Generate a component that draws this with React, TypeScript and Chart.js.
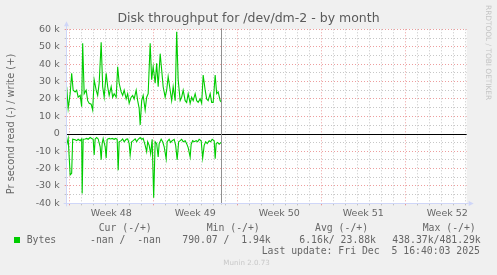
import { useEffect, useRef } from "react";
import { Chart, registerables } from "chart.js";

Chart.register(...registerables);

// ---------- text ----------
const TITLE = "Disk throughput for /dev/dm-2 - by month";
const Y_TITLE = "Pr second read (-) / write (+)";
const WATERMARK = "RRDTOOL / TOBI OETIKER";
const WEEK_LABELS = ["Week 48", "Week 49", "Week 50", "Week 51", "Week 52"];
const LEGEND_HEADERS = ["Cur (-/+)", "Min (-/+)", "Avg (-/+)", "Max (-/+)"];
const LEGEND_NAME = "Bytes";
const LEGEND_VALUES = ["-nan /  -nan", "790.07 /  1.94k", "6.16k/ 23.88k", "438.37k/481.29k"];
const LAST_UPDATE = "Last update: Fri Dec  5 16:40:03 2025";
const VERSION = "Munin 2.0.73";

// ---------- axes ----------
const Y_MIN = -40000;
const Y_MAX = 60000;
const Y_STEP = 5000;
const X_HOURS = 800; // window length (hours)
const FIRST_WEEK_HOUR = 5.33; // first week boundary (hours from window start)
const NOW_HOUR = 309.3;

// ---------- data (hours from window start, values in k bytes/s) ----------
const writeHours = [0,3,7,10,13,17,20,23,27,30,32,35,39,42,45,49,52,55,59,62,65,69,72,75,79,82,85,89,92,95,99,102,105,109,112,115,119,122,125,129,132,135,139,142,145,147,150,153,157,160,163,167,170,173,177,180,183,187,190,193,197,200,203,207,210,213,217,220,223,227,230,233,237,240,243,247,250,253,257,260,263,267,270,273,277,280,283,287,290,293,297,300,303,307,310];
const writeK = [27,14.6,23,34.7,25,24,25,21,22,15.5,52,23,25,19,17.5,17,13.6,31,25,22,29,52.5,27,21,34.7,27,22,27,21,23,21,38.5,29,24,22,25,20,23,17.5,21,22,20,25,19,14.6,5,19,22,13.6,21,23,52,31,38.5,29,40.5,27,46,36.6,27,21,25,32.8,25,19,27,19,58.6,31,19,21,25,19,18,23,17.5,21,19,23,19,18,20,17.5,33.7,25,20,19,23,18,18,33.7,23,24,19,18];

const readHours = [0,3,7,10,12,17,20,23,27,30,31,33,37,40,43,47,50,53,55,57,60,63,67,69,71,73,77,79,81,85,88,91,95,98,101,103,105,109,112,115,119,122,125,127,130,133,137,140,143,147,150,153,157,160,162,165,168,171,174,177,180,183,185,189,192,195,199,201,205,208,211,215,218,221,224,227,230,233,237,240,243,247,249,252,255,259,262,265,269,272,275,278,281,285,288,291,295,297,299,302,305,309];
const readK = [-6.5,-2.6,-23.7,-22.8,-3.2,-3.5,-4,-3.2,-4,-3,-34.3,-3.2,-3,-2.7,-3.2,-2.2,-2.7,-3.2,-12.2,-3,-2.2,-3,-7.5,-15,-5.5,-2.7,-7.5,-14,-3.2,-2.7,-3,-2.7,-3.2,-2.7,-3.2,-21,-4.6,-4,-3,-4.6,-3.2,-3,-5.7,-12.2,-4.6,-4,-3,-4.6,-3.2,-2.2,-3.2,-2.7,-6.7,-10.3,-4.6,-6.7,-11.5,-3.2,-36.8,-4.6,-5.7,-13.3,-5.7,-3.2,-4.6,-7.5,-14.4,-4.6,-3.2,-5,-4,-3.2,-6.7,-15,-4.6,-4,-3.2,-4.6,-4,-5.7,-8,-13.3,-6,-4,-4.6,-4,-4.6,-3.2,-4,-14,-6.7,-4.6,-5.7,-4,-4.6,-3.2,-4,-14.4,-5.7,-5,-6,-5];

// ---------- style ----------
const FONT = "'DejaVu Sans', sans-serif";
const MONO = "'DejaVu Sans Mono', monospace";
const TEXT = "#666666";
const GREEN = "#00cc00";
const MAJOR = "rgba(222,79,79,0.55)";
const MINOR = "rgba(143,143,143,0.5)";
const AXIS = "#cfd6f8";

const extras = {
  id: "extras",
  beforeDraw(chart: any) {
    const { ctx, chartArea: a } = chart;
    ctx.save();
    ctx.fillStyle = "#ffffff";
    ctx.fillRect(a.left, a.top, a.right - a.left, a.bottom - a.top);
    ctx.restore();
  },
  afterDatasetsDraw(chart: any) {
    const { ctx, chartArea: a, scales } = chart;
    const x = scales.x;
    const y = scales.y;
    ctx.save();
    const y0 = Math.round(y.getPixelForValue(0)) + 0.5;
    ctx.strokeStyle = "#000000";
    ctx.lineWidth = 1;
    ctx.beginPath();
    ctx.moveTo(a.left, y0);
    ctx.lineTo(a.right, y0);
    ctx.stroke();
    const xn = Math.round(x.getPixelForValue(NOW_HOUR)) + 0.5;
    ctx.strokeStyle = "#909090";
    ctx.beginPath();
    ctx.moveTo(xn, a.top - 1);
    ctx.lineTo(xn, a.bottom + 1);
    ctx.stroke();
    ctx.restore();
  },
  afterDraw(chart: any) {
    const { ctx, chartArea: a } = chart;
    ctx.save();
    const lx = Math.round(a.left - 0.5) + 0.5;
    const by = Math.round(a.bottom - 0.5) + 0.5;
    ctx.strokeStyle = AXIS;
    ctx.fillStyle = AXIS;
    ctx.lineWidth = 1;
    ctx.beginPath();
    ctx.moveTo(lx, a.bottom + 3);
    ctx.lineTo(lx, a.top - 4);
    ctx.moveTo(a.left - 3, by);
    ctx.lineTo(a.right + 2, by);
    ctx.stroke();
    ctx.beginPath();
    ctx.moveTo(lx, a.top - 8);
    ctx.lineTo(lx - 2.5, a.top - 3);
    ctx.lineTo(lx + 2.5, a.top - 3);
    ctx.closePath();
    ctx.fill();
    ctx.beginPath();
    ctx.moveTo(a.right + 7, by);
    ctx.lineTo(a.right + 2, by - 2.5);
    ctx.lineTo(a.right + 2, by + 2.5);
    ctx.closePath();
    ctx.fill();
    ctx.fillStyle = TEXT;
    ctx.font = `9.8px ${FONT}`;
    ctx.textAlign = "center";
    ctx.textBaseline = "middle";
    ctx.translate(11.5, 124);
    ctx.rotate(-Math.PI / 2);
    ctx.fillText(Y_TITLE, 0, 0);
    ctx.restore();
    ctx.save();
    ctx.fillStyle = "#c4c4c4";
    ctx.font = `7.4px ${FONT}`;
    ctx.textAlign = "left";
    ctx.textBaseline = "middle";
    ctx.translate(488, 5);
    ctx.rotate(Math.PI / 2);
    ctx.fillText(WATERMARK, 0, 0);
    ctx.restore();
  },
};

function weekIndex(v: number) {
  return Math.round((v - FIRST_WEEK_HOUR) / 12);
}

export default function App() {
  const ref = useRef<HTMLCanvasElement | null>(null);

  useEffect(() => {
    if (!ref.current) return;
    const chart = new Chart(ref.current, {
      type: "line",
      data: {
        datasets: [
          {
            label: "write",
            data: writeHours.map((h, i) => ({ x: h, y: writeK[i] * 1000 })),
            borderColor: GREEN,
            borderWidth: 1.1,
            pointRadius: 0,
            tension: 0,
            fill: false,
          },
          {
            label: "read",
            data: readHours.map((h, i) => ({ x: h, y: readK[i] * 1000 })),
            borderColor: GREEN,
            borderWidth: 1.1,
            pointRadius: 0,
            tension: 0,
            fill: false,
          },
        ],
      },
      options: {
        responsive: false,
        animation: false,
        devicePixelRatio: 1,
        layout: { padding: 0 },
        plugins: {
          legend: { display: false },
          tooltip: { enabled: false },
          title: {
            display: true,
            text: TITLE,
            color: "#5a5a5a",
            font: { family: FONT, size: 12.5, weight: "normal" as any, lineHeight: 1.2 },
            padding: { top: 11.5, bottom: 2.8 },
          },
        },
        scales: {
          x: {
            type: "linear",
            min: 0,
            max: X_HOURS,
            afterBuildTicks: (s: any) => {
              const t = [];
              for (let v = FIRST_WEEK_HOUR; v <= X_HOURS; v += 12) t.push({ value: v });
              s.ticks = t;
            },
            afterFit: (s: any) => {
              s.height = 71.67;
            },
            ticks: {
              autoSkip: false,
              maxRotation: 0,
              minRotation: 0,
              padding: 2.5,
              color: TEXT,
              font: { family: FONT, size: 9.5 },
              callback: (v: any) => {
                const k = weekIndex(Number(v));
                if (k % 14 === 7) return WEEK_LABELS[(k - 7) / 14] ?? "";
                return "";
              },
            },
            grid: {
              drawTicks: true,
              tickLength: 2,
              lineWidth: 1,
              color: (c: any) => {
                const k = weekIndex(c.tick?.value ?? 0);
                if (k % 14 === 0) return MAJOR;
                if (k % 2 === 0) return MINOR;
                return "rgba(0,0,0,0)";
              },
            },
            border: { display: true, color: AXIS, width: 1, dash: [1, 2] },
          },
          y: {
            type: "linear",
            min: Y_MIN,
            max: Y_MAX,
            afterFit: (s: any) => {
              s.width = 66.67;
            },
            ticks: {
              stepSize: Y_STEP,
              autoSkip: false,
              padding: 5,
              color: TEXT,
              font: { family: FONT, size: 9.5 },
              callback: (v: any) => {
                const n = Number(v);
                if (n % 10000 !== 0) return "";
                return n === 0 ? "0" : `${n / 1000} k`;
              },
            },
            grid: {
              drawTicks: true,
              tickLength: 2,
              lineWidth: 1,
              color: (c: any) => {
                const v = c.tick?.value ?? 0;
                if (v === 0) return "rgba(0,0,0,0)";
                return v % 10000 === 0 ? MAJOR : MINOR;
              },
            },
            border: { display: true, color: AXIS, width: 1, dash: [1, 2] },
          },
          // empty right-hand margin box (keeps the title centred on the full image)
          yRight: {
            type: "linear",
            position: "right",
            display: true,
            min: 0,
            max: 1,
            afterFit: (s: any) => {
              s.width = 30.33;
            },
            ticks: { display: false },
            grid: { display: false, drawTicks: false },
            border: { display: false },
          },
        },
      },
      plugins: [extras],
    } as any);
    return () => chart.destroy();
  }, []);

  const mono: any = {
    position: "absolute",
    fontFamily: MONO,
    fontSize: "9.8px",
    lineHeight: "12px",
    color: TEXT,
    whiteSpace: "pre",
  };
  const headerX = [98.7, 206.7, 315, 422.7];
  const valueX = [90, 182.3, 299.3, 392.3];

  return (
    <div
      style={{
        position: "absolute",
        left: 0,
        top: 0,
        width: 497,
        height: 275,
        background: "#f0f0f0",
        overflow: "hidden",
      }}
    >
      <canvas ref={ref} width={497} height={275} style={{ display: "block", position: "absolute", left: 0, top: 0 }} />
      {LEGEND_HEADERS.map((h, i) => (
        <div key={h} style={{ ...mono, left: headerX[i], top: 221.5 }}>
          {h}
        </div>
      ))}
      <div style={{ position: "absolute", left: 14, top: 237, width: 6, height: 6, background: GREEN }} />
      <div style={{ ...mono, left: 26.7, top: 233.5 }}>{LEGEND_NAME}</div>
      {LEGEND_VALUES.map((v, i) => (
        <div key={v} style={{ ...mono, left: valueX[i], top: 233.5 }}>
          {v}
        </div>
      ))}
      <div style={{ ...mono, left: 261.7, top: 245 }}>{LAST_UPDATE}</div>
      <div
        style={{
          position: "absolute",
          left: 223.3,
          top: 258,
          fontFamily: FONT,
          fontSize: "7.1px",
          lineHeight: "10px",
          color: "#c8c8c8",
          whiteSpace: "pre",
        }}
      >
        {VERSION}
      </div>
    </div>
  );
}
